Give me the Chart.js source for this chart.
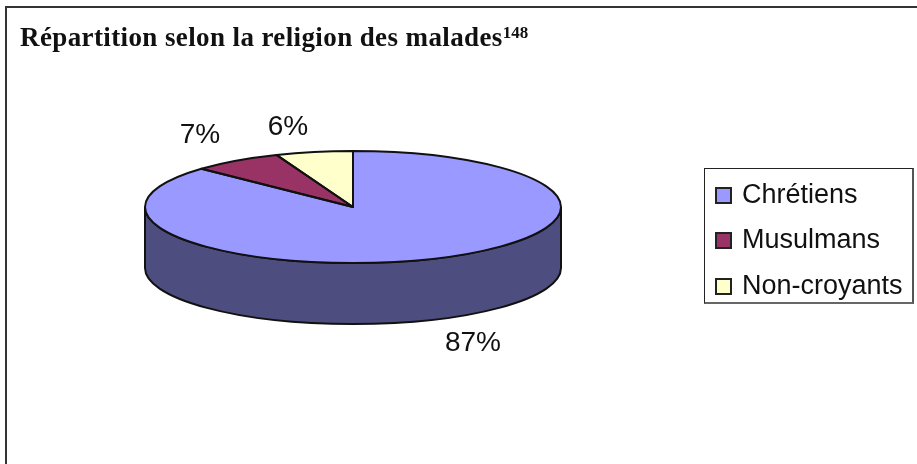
<!DOCTYPE html>
<html lang="fr">
<head>
<meta charset="utf-8">
<title>Religion des malades</title>
<script src="https://cdn.jsdelivr.net/npm/chart.js@4"></script>
<style>
    html, body { margin: 0; padding: 0; background: #fff; }
    #wrap { position: relative; width: 917px; height: 464px; overflow: hidden; }
    #frame {
        position: absolute; left: 5px; top: 6px; width: 940px; height: 480px;
        border: 2px solid #333; box-sizing: border-box;
    }
    #title {
        position: absolute; left: 20px; top: 22px; white-space: nowrap; color: #111;
        font: bold 27px "Liberation Serif", serif; letter-spacing: 0.39px;
    }
    #title sup { font-size: 17px; line-height: 0; vertical-align: 8px; letter-spacing: 0; }
    #chart { position: absolute; left: 0; top: 0; }
    #legend {
        position: absolute; left: 704px; top: 168px; width: 210px; height: 136px;
        box-sizing: border-box; border: 1px solid #222; border-right: 2px solid #555; border-bottom: 2px solid #666;
        font: 27px "Liberation Sans", sans-serif; color: #111;
    }
    .legend-row { position: absolute; left: 10px; height: 28px; line-height: 28px; white-space: nowrap; }
    .legend-box {
        display: inline-block; width: 17px; height: 17px; box-sizing: border-box;
        border: 2px solid #222; margin-right: 10px; vertical-align: -1px;
    }
</style>
</head>
<body>
<div id="wrap">
    <canvas id="chart" width="917" height="464"></canvas>
    <div id="frame"></div>
    <div id="title">Répartition selon la religion des malades<sup>148</sup></div>
    <div id="legend"></div>
</div>
<script>
// Share of patients by religion
const categories = ['Chrétiens', 'Musulmans', 'Non-croyants'];
const shares = [87, 7, 6];
const sliceColors = ['#9999ff', '#993366', '#ffffcc'];
const wallColors = ['#4d4d7f', '#4d1a33', '#808066'];

// The pie is flattened into a disc: vertical squash and wall height
const squash = 56 / 208;
const wallHeight = 61;
const discY = 207;
const outline = '#111';

// Label centres for each slice, placed by hand around the disc
const labelSpots = [[473, 343], [200, 135], [288, 127]];

// Places the flattened disc; arcs keep their own circular geometry
function discTransform(ctx, arc) {
    ctx.translate(arc.x, discY);
    ctx.scale(1, squash);
    ctx.translate(-arc.x, -arc.y);
}

function ellipsePath(ctx, arc, y, from, to, ccw) {
    ctx.ellipse(arc.x, y, arc.outerRadius, arc.outerRadius * squash, 0, from, to, ccw);
}

const discPlugin = {
    id: 'disc',
    beforeDatasetDraw(chart) {
        const ctx = chart.ctx;
        const arcs = chart.getDatasetMeta(0).data;

        // Visible side wall, front half of the ellipse only
        arcs.forEach((arc, i) => {
            const from = Math.max(arc.startAngle, 0);
            const to = Math.min(arc.endAngle, Math.PI);
            if (to <= from) return;
            ctx.save();
            ctx.beginPath();
            ellipsePath(ctx, arc, discY, from, to, false);
            ellipsePath(ctx, arc, discY + wallHeight, to, from, true);
            ctx.closePath();
            ctx.fillStyle = wallColors[i];
            ctx.fill();
            ctx.strokeStyle = outline;
            ctx.lineWidth = 2;
            ctx.stroke();
            ctx.restore();
        });

        ctx.save();
        discTransform(ctx, arcs[0]);
    },
    afterDatasetDraw(chart) {
        const ctx = chart.ctx;
        ctx.restore();

        // Outlines go on after the squash so the line width stays even
        const arcs = chart.getDatasetMeta(0).data;
        ctx.save();
        ctx.strokeStyle = outline;
        ctx.lineWidth = 2;
        ctx.lineJoin = 'round';
        arcs.forEach(arc => {
            ctx.beginPath();
            ctx.moveTo(arc.x, discY);
            ellipsePath(ctx, arc, discY, arc.startAngle, arc.endAngle, false);
            ctx.closePath();
            ctx.stroke();
        });
        ctx.restore();
    },
    afterDraw(chart) {
        // Percentage labels
        const ctx = chart.ctx;
        ctx.save();
        ctx.font = '28px "Liberation Sans", sans-serif';
        ctx.fillStyle = '#111';
        ctx.textAlign = 'center';
        ctx.textBaseline = 'middle';
        shares.forEach((value, i) => {
            ctx.fillText(value + '%', labelSpots[i][0], labelSpots[i][1]);
        });
        ctx.restore();
    }
};

new Chart(document.getElementById('chart'), {
    type: 'pie',
    data: {
        labels: categories,
        datasets: [{
            data: shares,
            backgroundColor: sliceColors,
            borderWidth: 0
        }]
    },
    options: {
        responsive: false,
        animation: false,
        layout: { padding: { left: 145, right: 356, top: 0, bottom: 48 } },
        plugins: {
            legend: { display: false },
            tooltip: { enabled: false }
        }
    },
    plugins: [discPlugin]
});

// Legend rows
const legendEl = document.getElementById('legend');
const rowTops = [11, 56, 102];
categories.forEach((name, i) => {
    const row = document.createElement('div');
    row.className = 'legend-row';
    row.style.top = rowTops[i] + 'px';
    const box = document.createElement('span');
    box.className = 'legend-box';
    box.style.background = sliceColors[i];
    row.appendChild(box);
    row.appendChild(document.createTextNode(name));
    legendEl.appendChild(row);
});
</script>
</body>
</html>
